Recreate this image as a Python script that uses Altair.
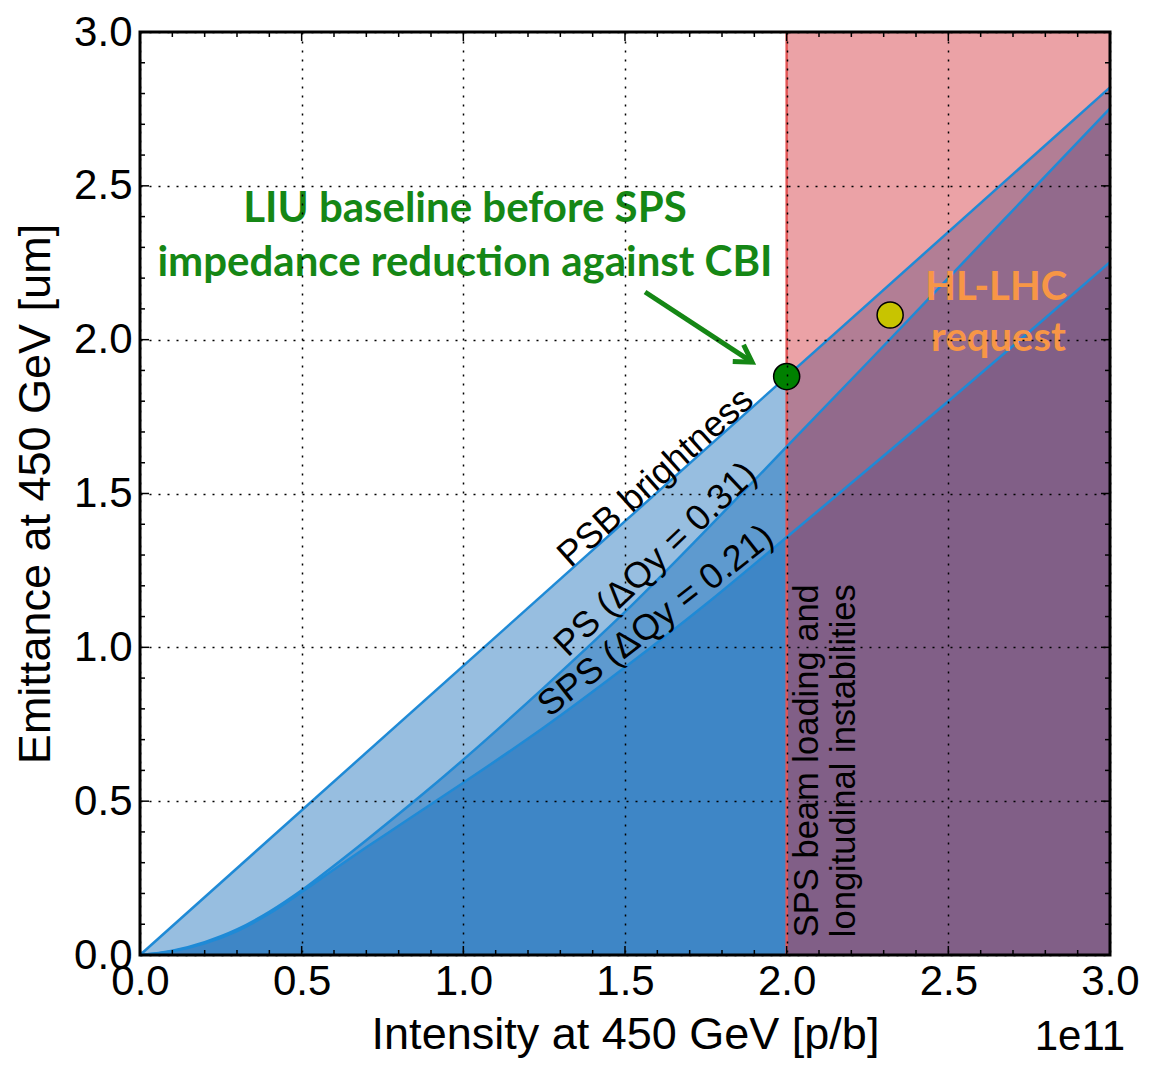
import altair as alt
import pandas as pd

# ---------------- data ----------------
psb_x = [0.0, 3.0]
psb_y = [0.0, 2.82]

curve_x = [0.0, 0.1, 0.2, 0.3, 0.4, 0.5, 0.6, 0.7, 0.8, 0.9, 1.0, 1.25, 1.5, 1.75, 2.0, 2.25, 2.5, 2.75, 3.0]
ps_y = [0.0, 0.014, 0.042, 0.083, 0.140, 0.210, 0.290, 0.373, 0.458, 0.545, 0.635, 0.870, 1.115, 1.380,
        1.652, 1.925, 2.200, 2.476, 2.752]
sps_y = [0.0, 0.012, 0.038, 0.078, 0.135, 0.205, 0.278, 0.350, 0.420, 0.490, 0.560, 0.740, 0.935, 1.140,
         1.358, 1.578, 1.800, 2.025, 2.252]

limit_start = [2.0]
limit_end = [3.0]

pt_x = [2.0, 2.32]
pt_y = [1.88, 2.08]
pt_name = ["LIU baseline", "HL-LHC request"]
pt_color = ["#008000", "#c8c400"]

arrow_x = [1.562, 1.893]
arrow_y = [2.155, 1.927]

major_ticks = [0.0, 0.5, 1.0, 1.5, 2.0, 2.5, 3.0]
minor_ticks = [0.1, 0.2, 0.3, 0.4, 0.6, 0.7, 0.8, 0.9, 1.1, 1.2, 1.3, 1.4, 1.6, 1.7, 1.8, 1.9,
               2.1, 2.2, 2.3, 2.4, 2.6, 2.7, 2.8, 2.9]

green_text = ["LIU baseline before SPS", "impedance reduction against CBI"]
green_tx = [1.005, 1.005]
green_ty = [2.382, 2.207]

orange_text = ["HL-LHC", "request"]
orange_tx = [2.648, 2.655]
orange_ty = [2.129, 1.963]

diag_text = ["PSB brightness", "PS (ΔQy = 0.31)", "SPS (ΔQy = 0.21)"]
diag_tx = [1.595, 1.595, 1.595]
diag_ty = [1.552, 1.286, 1.086]
diag_angle = [318.2, 316.5, 322.0]

vert_text = ["SPS beam loading and", "longitudinal instabilities"]
vert_tx = [2.066, 2.181]
vert_ty = [0.058, 0.058]

# ---------------- styling ----------------
W, H = 970, 923
FONT = "Liberation Sans, Arial, sans-serif"
BOLD_FONT = "Lato, Open Sans, sans-serif"
FILL_BLUE = "#186fba"
LINE_BLUE = "#1f8ad6"

xs = alt.Scale(domain=[0, 3], nice=False, zero=False)
ys = alt.Scale(domain=[0, 3], nice=False, zero=False)

x_axis = alt.Axis(values=major_ticks, format=".1f", title="Intensity at 450 GeV [p/b]",
                  labelFont=FONT, labelFontSize=42, labelColor="black", labelPadding=6,
                  labelFlush=False, labelOverlap=False,
                  ticks=False, tickSize=0, domain=False,
                  grid=True, gridColor="black", gridDash=[2, 7], gridWidth=1.5, gridOpacity=1,
                  titleFont=FONT, titleFontSize=45, titleFontWeight="normal", titleColor="black",
                  titlePadding=10, zindex=1)
y_axis = alt.Axis(values=major_ticks, format=".1f", title="Emittance at 450 GeV [um]",
                  labelFont=FONT, labelFontSize=42, labelColor="black", labelPadding=8,
                  labelFlush=False, labelOverlap=False,
                  ticks=False, tickSize=0, domain=False,
                  grid=True, gridColor="black", gridDash=[2, 7], gridWidth=1.5, gridOpacity=1,
                  titleFont=FONT, titleFontSize=45, titleFontWeight="normal", titleColor="black",
                  titlePadding=15, zindex=1)

psb_df = pd.DataFrame({"x": psb_x, "y": psb_y})
curve_df = pd.DataFrame({"x": curve_x, "ps": ps_y, "sps": sps_y})
limit_df = pd.DataFrame({"x": limit_start, "x2": limit_end})
pts_df = pd.DataFrame({"x": pt_x, "y": pt_y, "name": pt_name, "c": pt_color})
arrow_df = pd.DataFrame({"x": arrow_x, "y": arrow_y})
major_df = pd.DataFrame({"v": major_ticks})
minor_df = pd.DataFrame({"v": minor_ticks})


def X(f="x"):
    return alt.X(f"{f}:Q", scale=xs, axis=x_axis)


def Y(f="y"):
    return alt.Y(f"{f}:Q", scale=ys, axis=y_axis)


area_psb = alt.Chart(psb_df).mark_area(color=FILL_BLUE, opacity=0.45).encode(
    x=X(), y=Y(), y2=alt.datum(0))
area_ps = alt.Chart(curve_df).mark_area(color=FILL_BLUE, opacity=0.45, interpolate="monotone").encode(
    x=X(), y=Y("ps"), y2=alt.datum(0))
area_sps = alt.Chart(curve_df).mark_area(color=FILL_BLUE, opacity=0.45, interpolate="monotone").encode(
    x=X(), y=Y("sps"), y2=alt.datum(0))

red_zone = alt.Chart(limit_df).mark_rect(color="#d33039", opacity=0.45).encode(
    x=X(), x2="x2:Q", y=alt.value(0), y2=alt.value(H))
red_rule = alt.Chart(limit_df).mark_rule(color="#e35555", strokeWidth=2.5).encode(x=X())

line_psb = alt.Chart(psb_df).mark_line(color=LINE_BLUE, strokeWidth=2.5).encode(x=X(), y=Y())
line_ps = alt.Chart(curve_df).mark_line(color=LINE_BLUE, strokeWidth=2.5, interpolate="monotone").encode(x=X(), y=Y("ps"))
line_sps = alt.Chart(curve_df).mark_line(color=LINE_BLUE, strokeWidth=2.5, interpolate="monotone").encode(x=X(), y=Y("sps"))

arrow_line = alt.Chart(arrow_df).mark_line(color="#158715", strokeWidth=5).encode(x=X(), y=Y())
arrow_head = alt.Chart(arrow_df.tail(1)).mark_point(
    shape="M -0.6 1 L 0 0 L 0.6 1", filled=False, stroke="#158715", strokeWidth=5,
    size=1100, angle=123, opacity=1, strokeJoin="miter").encode(x=X(), y=Y())

points = alt.Chart(pts_df).mark_point(filled=True, size=680, stroke="black", strokeWidth=1.5, opacity=1).encode(
    x=X(), y=Y(), fill=alt.Fill("c:N", scale=None))


def text_layer(texts, tx, ty, color, font, size, weight="normal", angle=None, align="center", baseline="alphabetic"):
    df = pd.DataFrame({"t": texts, "x": tx, "y": ty})
    if angle is not None:
        df["a"] = angle
    enc = dict(x=X(), y=Y(), text="t:N")
    if angle is not None:
        enc["angle"] = alt.Angle("a:Q", scale=None)
    return alt.Chart(df).mark_text(color=color, font=font, fontSize=size, fontWeight=weight,
                                   align=align, baseline=baseline).encode(**enc)


green_lbl = text_layer(green_text, green_tx, green_ty, "#158715", BOLD_FONT, 42, "bold")
orange_lbl = text_layer(orange_text, orange_tx, orange_ty, "#f79646", BOLD_FONT, 40, "bold")
diag_lbl = text_layer(diag_text, diag_tx, diag_ty, "black", FONT, 36, angle=diag_angle, baseline="middle")
vert_lbl = text_layer(vert_text, vert_tx, vert_ty, "black", FONT, 34.5, angle=[270, 270], align="left", baseline="middle")


def tick_layers(df, L):
    base = alt.Chart(df).mark_rule(color="black", strokeWidth=1.5)
    return [
        base.encode(x=X("v"), y=alt.value(H), y2=alt.value(H - L)),
        base.encode(x=X("v"), y=alt.value(0), y2=alt.value(L)),
        base.encode(y=Y("v"), x=alt.value(0), x2=alt.value(L)),
        base.encode(y=Y("v"), x=alt.value(W), x2=alt.value(W - L)),
    ]


ticks = tick_layers(major_df, 9) + tick_layers(minor_df, 5)

frame = alt.Chart(major_df.head(1)).mark_rect(filled=False, stroke="black", strokeWidth=3).encode(
    x=alt.value(0), x2=alt.value(W), y=alt.value(0), y2=alt.value(H))

offset_lbl = alt.Chart(major_df.head(1)).mark_text(
    text="1e11", font=FONT, fontSize=42, color="black", align="right", baseline="alphabetic").encode(
    x=alt.value(W + 15), y=alt.value(H + 95))

chart = alt.layer(
    area_psb, area_ps, area_sps, red_zone, red_rule, line_psb, line_ps, line_sps,
    arrow_line, arrow_head, points, green_lbl, orange_lbl, diag_lbl, vert_lbl,
    *ticks, frame, offset_lbl
).properties(
    width=W, height=H,
    autosize=alt.AutoSizeParams(type="none"),
    padding={"left": 132, "top": 24, "right": 35, "bottom": 104},
    background="white",
).configure_view(stroke=None)

chart.save("out.html", embed_options={"renderer": "svg", "actions": False})
